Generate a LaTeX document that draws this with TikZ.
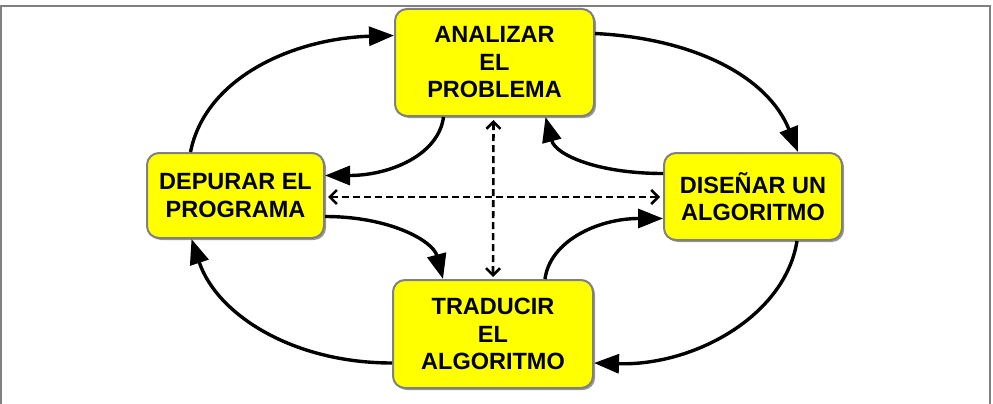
\documentclass[tikz,border=0pt]{standalone}
\usepackage{fontspec}
\setmainfont{Liberation Sans}
\usetikzlibrary{arrows.meta,calc,shadows}
\definecolor{boxyellow}{RGB}{255,255,0}
\begin{document}
\begin{tikzpicture}[x=1pt,y=-1pt,
  box/.style={draw=gray, line width=2pt, fill=boxyellow, rounded corners=12pt,
    drop shadow={shadow xshift=2pt,shadow yshift=-2pt,fill=gray!80,opacity=1},
    align=center, inner sep=0pt,
    font=\bfseries\fontsize{23.5}{27.5}\selectfont},
  solidarrow/.style={line width=3.4pt, -{Triangle[length=25pt,width=19pt]}},
  dasharrow/.style={line width=2.6pt, dash pattern=on 7pt off 4pt,
    {Straight Barb[length=7pt,width=14pt]}-{Straight Barb[length=7pt,width=14pt]}},
  frameline/.style={draw=gray, line width=2pt}]
\fill[white] (0,0) rectangle (993,404);
\useasboundingbox (0,0) rectangle (993,404);
\draw[frameline] (1,404) -- (1,6) -- (990,6) -- (990,404);

\node[box, minimum width=199pt, minimum height=107pt] (ana) at (494.5,62.5) {ANALIZAR\\EL\\PROBLEMA};
\node[box, minimum width=177pt, minimum height=85pt] (dep) at (235.5,195.5) {DEPURAR EL\\PROGRAMA};
\node[box, minimum width=178pt, minimum height=87pt] (dis) at (753,196.5) {DISEÑAR UN\\ALGORITMO};
\node[box, minimum width=200pt, minimum height=108pt] (tra) at (493,334) {TRADUCIR\\EL\\ALGORITMO};

% outer cycle
\draw[solidarrow] ($(dep.north)+(-45,0)$) .. controls +(15,-75) and +(-100,3) .. ($(ana.west)+(0,-27)$);
\draw[solidarrow] ($(ana.east)+(0,-29)$) .. controls +(100,5) and +(-30,-75) .. ($(dis.north)+(45,0)$);
\draw[solidarrow] ($(dis.south)+(44,0)$) .. controls +(-12,75) and +(100,3) .. ($(tra.east)+(0,29)$);
\draw[solidarrow] ($(tra.west)+(0,29)$) .. controls +(-100,0) and +(25,75) .. ($(dep.south)+(-44,0)$);

% inner arrows
\draw[solidarrow] ($(ana.south)+(-51,0)$) .. controls +(-5,38) and +(65,0) .. ($(dep.east)+(0,-20)$);
\draw[solidarrow] ($(dis.west)+(0,-23)$) .. controls +(-65,0) and +(10,38) .. ($(ana.south)+(51,0)$);
\draw[solidarrow] ($(dep.east)+(0,21)$) .. controls +(65,0) and +(-10,-38) .. ($(tra.north)+(-50,0)$);
\draw[solidarrow] ($(tra.north)+(52,0)$) .. controls +(5,-38) and +(-65,0) .. ($(dis.west)+(0,22)$);

% dashed
\draw[dasharrow] ($(ana.south)+(-1,3)$) -- ($(tra.north)+(0,-2)$);
\draw[dasharrow] ($(dep.east)+(3,1.5)$) -- ($(dis.west)+(-3,0.5)$);
\end{tikzpicture}
\end{document}
